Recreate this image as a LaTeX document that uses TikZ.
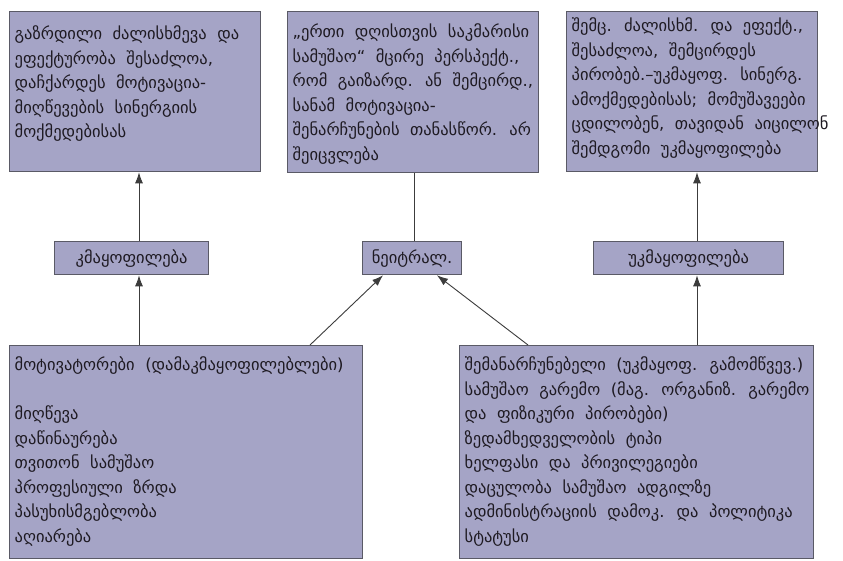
\documentclass[tikz,border=0pt]{standalone}
\usepackage{fontspec}
\usetikzlibrary{arrows.meta}
\newfontfamily\geo[WordSpace=2.0]{DejaVu Sans}
\definecolor{boxfill}{HTML}{A5A4C6}
\definecolor{boxline}{HTML}{5A5A66}
\definecolor{linkcol}{HTML}{3C3C3C}
\definecolor{inkcol}{HTML}{1E1A22}
% fixed-size text block: width, height, top gap, lines (no automatic wrapping)
\newcommand{\geotext}[4]{\parbox[t][#2][t]{#1}{\vspace*{#3}%
  \begin{tabular}[t]{@{}l@{}}#4\end{tabular}}}
\tikzset{
  box/.style={draw=boxline, fill=boxfill, line width=1.3pt, anchor=north west,
    inner xsep=5pt, inner ysep=4pt, text=inkcol,
    font=\geo\fontsize{16.5}{24.5}\selectfont},
  tag/.style={draw=boxline, fill=boxfill, line width=1.3pt, anchor=north west,
    inner sep=0pt, text=inkcol, font=\geo\fontsize{16.5}{18}\selectfont},
  arr/.style={draw=linkcol, line width=0.9pt, -{Latex[length=11pt,width=8pt]}},
  link/.style={draw=linkcol, line width=0.9pt}
}
\begin{document}
\begin{tikzpicture}[x=1pt,y=-1pt]
\useasboundingbox (0,0) rectangle (843,561);
\fill[white] (0,0) rectangle (843,561);

% outcome boxes (top row)
\node[box] (out1) at (9,11) {\geotext{241pt}{152pt}{7pt}{%
გაზრდილი ძალისხმევა და\\
ეფექტურობა შესაძლოა,\\
დაჩქარდეს მოტივაცია-\\
მიღწევების სინერგიის\\
მოქმედებისას}};
\node[box] (out2) at (287,11) {\geotext{241pt}{153pt}{5pt}{%
„ერთი დღისთვის საკმარისი\\
სამუშაო“ მცირე პერსპექტ.,\\
რომ გაიზარდ. ან შემცირდ.,\\
სანამ მოტივაცია-\\
შენარჩუნების თანასწორ. არ\\
შეიცვლება}};
\node[box] (out3) at (566,11) {\geotext{241pt}{152pt}{-1pt}{%
შემც. ძალისხმ. და ეფექტ.,\\
შესაძლოა, შემცირდეს\\
პირობებ.–უკმაყოფ. სინერგ.\\
ამოქმედებისას; მომუშავეები\\
ცდილობენ, თავიდან აიცილონ\\
შემდგომი უკმაყოფილება}};

% state boxes (middle row)
\node[tag, minimum width=154pt, minimum height=33pt] (sat) at (54,241) {კმაყოფილება};
\node[tag, minimum width=99pt, minimum height=33pt] (neu) at (362,241) {ნეიტრალ.};
\node[tag, minimum width=190pt, minimum height=33pt] (dis) at (593,241) {უკმაყოფილება};

% factor boxes (bottom row)
\node[box] (mot) at (9,345) {\geotext{343pt}{205pt}{4pt}{%
მოტივატორები (დამაკმაყოფილებლები)\\
\\
მიღწევა\\
დაწინაურება\\
თვითონ სამუშაო\\
პროფესიული ზრდა\\
პასუხისმგებლობა\\
აღიარება}};
\node[box] (hyg) at (459,345) {\geotext{344pt}{205pt}{4pt}{%
შემანარჩუნებელი (უკმაყოფ. გამომწვევ.)\\
სამუშაო გარემო (მაგ. ორგანიზ. გარემო\\
და ფიზიკური პირობები)\\
ზედამხედველობის ტიპი\\
ხელფასი და პრივილეგიები\\
დაცულობა სამუშაო ადგილზე\\
ადმინისტრაციის დამოკ. და პოლიტიკა\\
სტატუსი}};

% connector columns
\coordinate (c1) at (139,0);
\coordinate (c2) at (414,0);
\coordinate (c3) at (697,0);
\coordinate (nl) at (383,0);
\coordinate (nr) at (437,0);
\coordinate (ml) at (310,0);
\coordinate (hr) at (528,0);

\draw[arr] (mot.north -| c1) -- (sat.south -| c1);
\draw[arr] (sat.north -| c1) -- (out1.south -| c1);
\draw[arr] (mot.north -| ml) -- (neu.south -| nl);
\draw[arr] (hyg.north -| hr) -- (neu.south -| nr);
\draw[link] (neu.north -| c2) -- (out2.south -| c2);
\draw[arr] (hyg.north -| c3) -- (dis.south -| c3);
\draw[arr] (dis.north -| c3) -- (out3.south -| c3);
\end{tikzpicture}
\end{document}
